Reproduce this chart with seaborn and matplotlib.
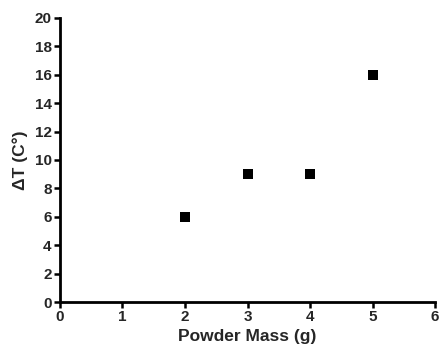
import pandas as pd
import matplotlib
matplotlib.use("Agg")
import matplotlib.pyplot as plt
import seaborn as sns

# Data
powder_mass = [2, 3, 4, 5]
delta_t = [6, 9, 9, 16]
x_ticks = [0, 1, 2, 3, 4, 5, 6]
y_ticks = list(range(0, 21, 2))

df = pd.DataFrame({"Powder Mass (g)": powder_mass, "dT": delta_t})

sns.set_style("ticks")
plt.rcParams["font.family"] = ["Liberation Sans", "DejaVu Sans"]
plt.rcParams["font.weight"] = "bold"

fig = plt.figure(figsize=(4.43, 3.52), dpi=100)
ax = fig.add_axes([0.1354, 0.142, 0.8466, 0.807])

sns.scatterplot(data=df, x="Powder Mass (g)", y="dT", marker="s", s=55,
                color="black", edgecolor="black", linewidth=0, ax=ax, clip_on=False)

ax.set_xlim(0, 6)
ax.set_ylim(0, 20)
ax.set_xticks(x_ticks)
ax.set_xticklabels([str(v) for v in x_ticks], fontsize=11, fontweight="bold")
ax.set_yticks(y_ticks)
ax.set_yticklabels([str(v) for v in y_ticks], fontsize=11, fontweight="bold")
ax.tick_params(axis="both", direction="out", length=4, width=1.8,
               pad=2, color="black")

for side in ["top", "right"]:
    ax.spines[side].set_visible(False)
for side in ["left", "bottom"]:
    ax.spines[side].set_linewidth(2)
    ax.spines[side].set_color("black")

ax.set_xlabel("Powder Mass (g)", fontsize=12.5, fontweight="bold", labelpad=3)
ax.set_ylabel("ΔT (C°)", fontsize=12.5, fontweight="bold", labelpad=5)

fig.savefig("out.png", dpi=100)
